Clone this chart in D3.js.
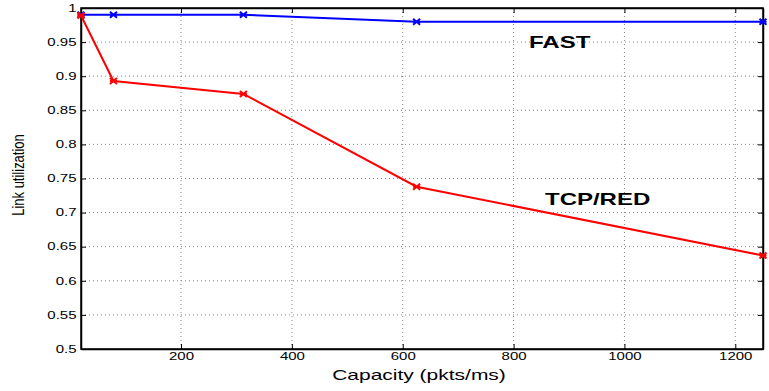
<html>
<head>
	<style>
		body { margin:0; padding:0; background:#fff; }
		text { font-family: "Liberation Sans", Arial, sans-serif; }
	</style>
</head>
<body>
	<svg width="769" height="391"></svg>
	<script src="https://d3js.org/d3.v7.min.js"></script>
	<script>
		var capacity = [19.53, 78.1, 312.5, 625, 1250];
		var fastUtil = [0.99, 0.99, 0.99, 0.98, 0.98];
		var redUtil = [0.989, 0.893, 0.874, 0.738, 0.637];
		var xTicks = [200, 400, 600, 800, 1000, 1200];
		var yTicks = [0.5, 0.55, 0.6, 0.65, 0.7, 0.75, 0.8, 0.85, 0.9, 0.95, 1];

		var mLeft = 81, mRight = 763, mTop = 8, mBottom = 349;
		var stretch = 1.5; // the figure text is wide, like a horizontally stretched image
		var svg = d3.select("svg");

		var x = d3.scaleLinear().domain([19.53, 1250]).range([mLeft, mRight]);
		var y = d3.scaleLinear().domain([0.5, 1]).range([mBottom, mTop]);

		// grid
		var grid = svg.append("g");
		grid.selectAll(".gx").data(xTicks).enter().append("line")
			.attr("x1", d => x(d)).attr("x2", d => x(d))
			.attr("y1", mTop).attr("y2", mBottom)
			.attr("stroke", "#777").attr("stroke-width", 0.9).attr("stroke-dasharray", "1,3");
		grid.selectAll(".gy").data(yTicks).enter().append("line")
			.attr("y1", d => y(d)).attr("y2", d => y(d))
			.attr("x1", mLeft).attr("x2", mRight)
			.attr("stroke", "#777").attr("stroke-width", 0.9).attr("stroke-dasharray", "1,3");

		// axes (ticks inward)
		var yFmt = d => String(+d.toFixed(2));
		svg.append("g").attr("transform", "translate(0," + mBottom + ")")
			.call(d3.axisBottom(x).tickValues(xTicks).tickSizeInner(-5).tickSizeOuter(0).tickPadding(4).tickFormat(d3.format("d")));
		svg.append("g").attr("transform", "translate(0," + mTop + ")")
			.call(d3.axisTop(x).tickValues(xTicks).tickSizeInner(-5).tickSizeOuter(0).tickFormat(""));
		svg.append("g").attr("transform", "translate(" + mLeft + ",0)")
			.call(d3.axisLeft(y).tickValues(yTicks).tickSizeInner(-5).tickSizeOuter(0).tickPadding(3).tickFormat(yFmt));
		svg.append("g").attr("transform", "translate(" + mRight + ",0)")
			.call(d3.axisRight(y).tickValues(yTicks).tickSizeInner(-5).tickSizeOuter(0).tickFormat(""));

		svg.selectAll(".domain").attr("stroke", "#000").attr("stroke-width", 1.5);
		svg.selectAll(".tick line").attr("stroke", "#000");
		svg.selectAll(".tick text").attr("font-size", 10).attr("fill", "#000")
			.attr("font-family", "'Liberation Sans', Arial, sans-serif")
			.attr("transform", "scale(" + stretch + ",1)");

		// box
		svg.append("rect").attr("x", mLeft).attr("y", mTop)
			.attr("width", mRight - mLeft).attr("height", mBottom - mTop)
			.attr("fill", "none").attr("stroke", "#000").attr("stroke-width", 1.5);

		function drawSeries(vals, color) {
			var pts = capacity.map((c, i) => [x(c), y(vals[i])]);
			svg.append("path").attr("d", d3.line()(pts))
				.attr("fill", "none").attr("stroke", color).attr("stroke-width", 2);
			var m = svg.append("g");
			pts.forEach(function(p) {
				m.append("path")
					.attr("d", "M" + (p[0] - 3.5) + "," + (p[1] - 3) + "L" + (p[0] + 3.5) + "," + (p[1] + 3) +
						"M" + (p[0] - 3.5) + "," + (p[1] + 3) + "L" + (p[0] + 3.5) + "," + (p[1] - 3) +
						"M" + (p[0] - 3.5) + "," + p[1] + "L" + (p[0] + 3.5) + "," + p[1])
					.attr("stroke", color).attr("stroke-width", 2).attr("fill", "none");
			});
		}
		drawSeries(fastUtil, "#0000ff");
		drawSeries(redUtil, "#ff0000");

		function label(tx, ty, str, size, weight, anchor, extra) {
			svg.append("g").attr("transform", "translate(" + tx + "," + ty + ") scale(" + stretch + ",1)" + (extra || ""))
				.append("text").attr("text-anchor", anchor).attr("font-size", size)
				.attr("font-weight", weight).text(str);
		}
		label(529, 48, "FAST", 16, "bold", "start");
		label(545, 205, "TCP/RED", 16, "bold", "start");
		label(419, 380, "Capacity (pkts/ms)", 14, "normal", "middle");
		svg.append("g").attr("transform", "translate(24,175) scale(1.3,1) rotate(-90)")
			.append("text").attr("text-anchor", "middle").attr("font-size", 13).text("Link utilization");
	</script>
</body>
</html>
